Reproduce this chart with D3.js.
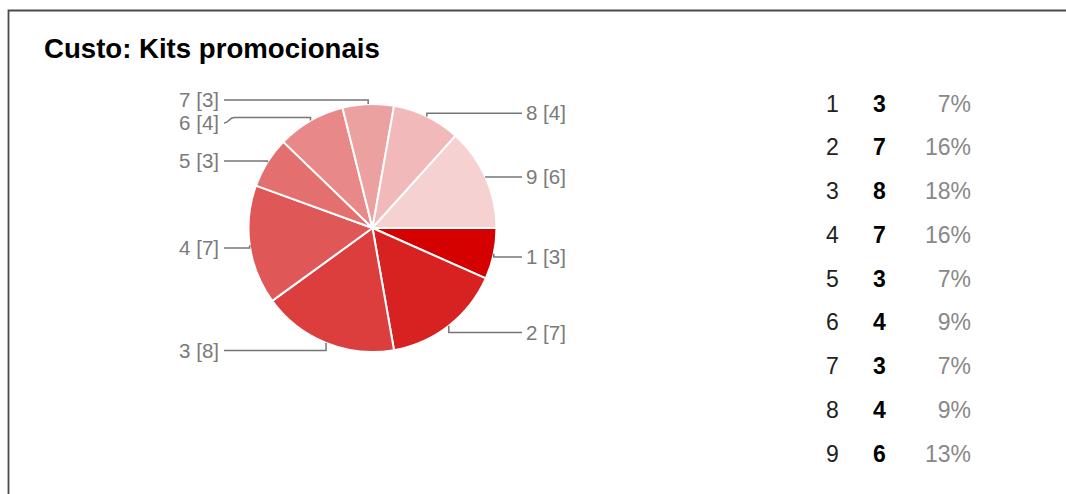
<!DOCTYPE html>
<html>
<head>
<meta charset="utf-8">
<script src="https://cdn.jsdelivr.net/npm/d3@7"></script>
<style>
  html, body { margin: 0; padding: 0; background: #fff; }
  svg { display: block; }
  text { font-family: Arial, "Liberation Sans", sans-serif; }
</style>
</head>
<body>
<script>
// Response counts per option for "Custo: Kits promocionais"
const categories = ["1", "2", "3", "4", "5", "6", "7", "8", "9"];
const counts = [3, 7, 8, 7, 3, 4, 3, 4, 6];
const sliceColors = ["#d50000", "#d82121", "#dc3d3d", "#e05757", "#e46f6f",
                     "#e88888", "#eca1a1", "#f1b9b9", "#f5d1d1"];
const title = "Custo: Kits promocionais";

const W = 1066, H = 494;
const svg = d3.select("body").append("svg").attr("width", W).attr("height", H);

// panel frame (top and left edges)
svg.append("path")
  .attr("d", `M8.5,${H} L8.5,10.5 L${W + 2},10.5`)
  .attr("fill", "none").attr("stroke", "#4a4a4a").attr("stroke-width", 1.8);

svg.append("text")
  .attr("x", 44).attr("y", 58)
  .attr("font-size", 27.6).attr("font-weight", "bold").attr("fill", "#000")
  .text(title);

// ---- pie ----
const cx = 372.5, cy = 228, R = 124;
const total = d3.sum(counts);
const data = categories.map((c, i) => ({ cat: c, value: counts[i], color: sliceColors[i] }));

const pie = d3.pie().value(d => d.value).sort(null)
  .startAngle(Math.PI / 2).endAngle(Math.PI / 2 + 2 * Math.PI);
const arcs = pie(data);
const arc = d3.arc().innerRadius(0).outerRadius(R);

const g = svg.append("g").attr("transform", `translate(${cx},${cy})`);
g.selectAll("path.slice").data(arcs).join("path")
  .attr("class", "slice")
  .attr("d", arc)
  .attr("fill", d => d.data.color)
  .attr("stroke", "#fff").attr("stroke-width", 2).attr("stroke-linejoin", "round");

// ---- leader labels ----
const leftEnd = 224 - cx, rightEnd = 522 - cx;
const labels = arcs.map(a => {
  const m = (a.startAngle + a.endAngle) / 2;
  const ax = R * Math.sin(m), ay = -R * Math.cos(m);
  const ny = 2 - (R + 6) * Math.cos(m);
  return { a, ax, ay, ny, y: ny, right: Math.sin(m) > 0 };
});
// keep labels on the same side apart vertically
[true, false].forEach(side => {
  const s = labels.filter(l => l.right === side).sort((p, q) => p.ny - q.ny);
  for (let i = 1; i < s.length; i++) {
    if (s[i].y < s[i - 1].y + 23) s[i].y = s[i - 1].y + 23;
  }
});

const lg = svg.append("g").attr("transform", `translate(${cx},${cy})`);
lg.selectAll("path.leader").data(labels).join("path")
  .attr("class", "leader")
  .attr("fill", "none").attr("stroke", "#767676").attr("stroke-width", 1.5)
  .attr("d", l => {
    const end = l.right ? rightEnd : leftEnd;
    const dir = l.right ? -1 : 1;
    const p = d3.path();
    p.moveTo(l.ax, l.ay);
    p.lineTo(l.ax, l.ny);
    if (Math.abs(l.y - l.ny) < 0.5) {
      p.lineTo(end, l.y);
    } else {
      p.lineTo(end + dir * 10, l.ny);
      p.bezierCurveTo(end + dir * 5, l.ny, end + dir * 5, l.y, end, l.y);
    }
    return p.toString();
  });

lg.selectAll("text.lbl").data(labels).join("text")
  .attr("class", "lbl")
  .attr("x", l => l.right ? rightEnd + 4 : leftEnd - 5)
  .attr("y", l => l.y)
  .attr("dy", "0.35em")
  .attr("text-anchor", l => l.right ? "start" : "end")
  .attr("font-size", 20.5).attr("fill", "#7a7a7a")
  .text(l => `${l.a.data.cat} [${l.a.data.value}]`);

// ---- summary table ----
const rowY = d3.scalePoint().domain(categories).range([103.5, 453.5]);
const pct = d3.format(".0%");
const tbl = svg.append("g").attr("font-size", 23);
categories.forEach((c, i) => {
  const y = rowY(c);
  tbl.append("text").attr("x", 826).attr("y", y).attr("dy", "0.35em")
    .attr("fill", "#222").text(c);
  tbl.append("text").attr("x", 873).attr("y", y).attr("dy", "0.35em")
    .attr("fill", "#000").attr("font-weight", "bold").text(counts[i]);
  tbl.append("text").attr("x", 971).attr("y", y).attr("dy", "0.35em")
    .attr("text-anchor", "end").attr("fill", "#888").text(pct(counts[i] / total));
});
</script>
</body>
</html>
